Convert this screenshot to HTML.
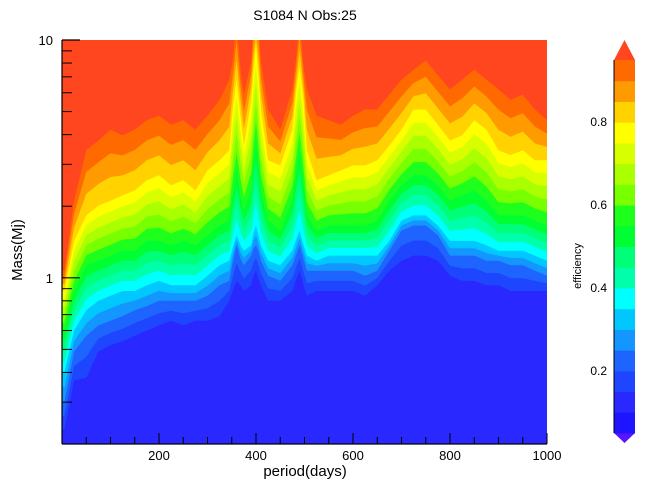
<!DOCTYPE html>
<html><head><meta charset="utf-8"><style>
html,body{margin:0;padding:0;background:#fff;}
svg{display:block;font-family:"Liberation Sans",sans-serif;}
</style></head><body>
<svg id="chart" width="646" height="493" viewBox="0 0 646 493">
<defs><clipPath id="plotclip"><rect x="62" y="40" width="485" height="404"/></clipPath></defs>
<text x="305" y="20" text-anchor="middle" font-size="14">S1084 N Obs:25</text>
<g id="plot" clip-path="url(#plotclip)"></g>
<g id="axes"></g>
<g id="cbar"></g>
<text x="305" y="476" text-anchor="middle" font-size="15">period(days)</text>
<text transform="translate(22,250) rotate(-90)" text-anchor="middle" font-size="15">Mass(Mj)</text>
<text transform="translate(581,266) rotate(-90)" text-anchor="middle" font-size="11">efficiency</text>
</svg>
<script>
const periods=[5,25,50,75,100,125,150,175,200,225,250,275,300,325,345,352,360,368,375,390,395,400,405,410,425,450,475,482,490,498,505,525,550,575,600,625,650,675,700,725,750,775,800,825,850,875,900,925,950,975,1000];
const contourLevels=[0.15,0.25,0.35,0.55,0.80,0.95];
const mass15=[0.23,0.37,0.38,0.49,0.52,0.54,0.57,0.60,0.63,0.66,0.63,0.66,0.66,0.69,0.80,0.88,0.97,0.93,0.88,0.93,1.02,1.07,0.99,0.93,0.80,0.80,0.88,0.97,1.07,0.93,0.84,0.88,0.88,0.88,0.88,0.84,0.93,1.07,1.18,1.24,1.24,1.18,1.02,0.97,0.97,0.93,0.93,0.88,0.88,0.88,0.88];
const mass25=[0.30,0.49,0.57,0.63,0.66,0.69,0.73,0.76,0.80,0.80,0.80,0.80,0.84,0.93,0.97,1.16,1.37,1.20,1.13,1.24,1.33,1.37,1.30,1.18,1.02,0.97,1.13,1.24,1.37,1.20,1.07,1.07,1.07,1.07,1.07,1.02,1.07,1.30,1.58,1.66,1.66,1.51,1.24,1.24,1.24,1.18,1.18,1.13,1.13,1.07,1.02];
const mass35=[0.40,0.60,0.73,0.80,0.84,0.88,0.88,0.93,0.97,0.93,0.93,0.93,1.02,1.13,1.18,1.33,1.51,1.37,1.30,1.37,1.55,1.66,1.51,1.37,1.18,1.13,1.30,1.43,1.58,1.37,1.24,1.18,1.24,1.24,1.24,1.24,1.24,1.43,1.74,1.83,1.83,1.66,1.43,1.43,1.43,1.37,1.30,1.30,1.30,1.24,1.18];
const mass55=[0.60,0.88,1.13,1.18,1.24,1.30,1.30,1.43,1.43,1.37,1.43,1.37,1.51,1.66,1.74,2.22,2.83,2.22,1.92,2.33,3.12,3.78,2.97,2.33,1.74,1.58,2.11,2.70,3.44,2.45,1.83,1.58,1.66,1.66,1.66,1.66,1.74,2.11,2.45,2.70,2.70,2.45,2.11,2.22,2.33,2.11,1.83,1.83,1.83,1.74,1.66];
const mass80=[0.88,1.43,1.83,2.01,2.11,2.22,2.33,2.57,2.70,2.45,2.57,2.33,2.83,3.12,3.44,5.1,6.8,4.8,3.6,5.6,7.5,9.5,7.1,5.1,3.12,2.97,4.2,5.9,7.8,5.6,3.44,2.57,2.70,2.83,2.97,2.97,3.12,3.6,4.2,5.1,5.1,4.4,3.78,3.97,4.6,4.2,3.44,3.28,3.44,3.12,3.12];
const mass95=[1.07,2.11,3.44,3.78,4.2,3.97,4.2,4.6,4.8,4.4,4.6,4.2,4.8,5.6,6.8,8.2,12,7.5,5.9,8.2,12,12,12,8.2,5.1,4.2,6.2,8.2,12,7.8,6.2,4.8,4.6,4.4,4.8,5.1,5.1,5.9,6.8,7.5,8.2,7.1,6.2,6.8,7.5,6.8,6.2,5.6,5.9,5.1,4.6];
const bandLevels=[0.15,0.20,0.25,0.30,0.35,0.40,0.45,0.50,0.55,0.60,0.65,0.70,0.75,0.80,0.85,0.90,0.95];
const xTickValues=[200,400,600,800,1000];
const xTickLabels=["200","400","600","800","1000"];
const yMajorValues=[10,1];
const yMajorLabels=["10","1"];
const yMinorValues=[9,8,7,6,5,4,3,2,0.9,0.8,0.7,0.6,0.5,0.4,0.3];
const cbarTickValues=[0.2,0.4,0.6,0.8];
const cbarTickLabels=["0.2","0.4","0.6","0.8"];

const NS="http://www.w3.org/2000/svg";
const X0=62,X1=547,Y0=40,Y1=444,XMIN=0,XMAX=1000,YMIN=0.2,YMAX=10;
const xS=p=>X0+(p-XMIN)/(XMAX-XMIN)*(X1-X0);
const yS=m=>Y0+(Math.log10(YMAX)-Math.log10(m))/(Math.log10(YMAX)-Math.log10(YMIN))*(Y1-Y0);
const colorFor=function(lv){
  const table=[[0.00,"#2828ff"],[0.15,"#1e46ff"],[0.20,"#1e64ff"],[0.25,"#1496ff"],[0.30,"#00c8ff"],[0.35,"#00ffff"],[0.40,"#00ffaa"],[0.45,"#00ff78"],[0.50,"#00ff32"],[0.55,"#1eff1e"],[0.60,"#78ff00"],[0.65,"#aaff00"],[0.70,"#d8ff00"],[0.75,"#ffff00"],[0.80,"#ffd200"],[0.85,"#ff9a00"],[0.90,"#ff6a00"],[0.95,"#ff461e"]];
  let c=table[0][1];for(const t of table){if(lv>=t[0]-1e-9)c=t[1];}return c;};
const knots=[mass15,mass25,mass35,mass55,mass80,mass95];
function contourMass(i,lv){
  let k=0;while(k<contourLevels.length-2&&lv>contourLevels[k+1])k++;
  const a=contourLevels[k],b=contourLevels[k+1];
  const la=Math.log10(knots[k][i]),lb=Math.log10(knots[k+1][i]);
  const t=(lv-a)/(b-a);return Math.pow(10,la+(lb-la)*t);}
function mk(tag,parent,attrs){const e=document.createElementNS(NS,tag);for(const k in attrs)e.setAttribute(k,attrs[k]);parent.appendChild(e);return e;}
const plot=document.getElementById('plot');
const base=mk('rect',plot,{x:X0,y:Y0,width:X1-X0,height:Y1-Y0,fill:colorFor(0)});


bandLevels.forEach(function(lv){
  let pts=[[X0,Y0-5]];
  pts.push([X0,yS(contourMass(0,lv))]);
  periods.forEach(function(p,i){pts.push([xS(p),yS(contourMass(i,lv))]);});
  pts.push([X1,yS(contourMass(periods.length-1,lv))]);
  pts.push([X1,Y0-5]);
  const poly=mk('polygon',plot,{points:pts.map(q=>q[0].toFixed(1)+','+q[1].toFixed(1)).join(' '),fill:colorFor(lv)});
  
  
});
const axes=document.getElementById('axes');
const yl=mk('line',axes,{x1:X0,y1:Y0,x2:X0,y2:Y1,stroke:'#000','stroke-width':1.2});


const xl=mk('line',axes,{x1:X0,y1:Y1,x2:X1,y2:Y1,stroke:'#000','stroke-width':1.2});


for(let p=50;p<=1000;p+=50){
  const major=p%200===0;
  const t=mk('line',axes,{x1:xS(p),y1:Y1,x2:xS(p),y2:Y1-(major?11:7),stroke:'#000','stroke-width':1});
  
  
}
xTickValues.forEach(function(v,i){
  const t=mk('text',axes,{x:xS(v),y:Y1+16,'text-anchor':'middle','font-size':13});
  t.textContent=xTickLabels[i];
  
  
});
yMajorValues.forEach(function(v,i){
  const tk=mk('line',axes,{x1:X0,y1:yS(v),x2:X0+18,y2:yS(v),stroke:'#000','stroke-width':1.2});
  
  
  const t=mk('text',axes,{x:X0-9,y:yS(v)+5,'text-anchor':'end','font-size':13});
  t.textContent=yMajorLabels[i];
  
  
});
yMinorValues.forEach(function(v){
  const tk=mk('line',axes,{x1:X0,y1:yS(v),x2:X0+10,y2:yS(v),stroke:'#000','stroke-width':1});
  
  
});
const cbar=document.getElementById('cbar');
const CX0=614,CX1=635,CT=60,CB=433;
const cy=v=>CB-(v-0.05)/(0.95-0.05)*(CB-CT);
const lo=mk('polygon',cbar,{points:CX0+','+CB+' '+CX1+','+CB+' '+((CX0+CX1)/2)+','+443,fill:'#5a14ff'});


const hi=mk('polygon',cbar,{points:CX0+','+CT+' '+CX1+','+CT+' '+((CX0+CX1)/2)+','+40,fill:colorFor(0.95)});


const lowBands=[0.05,0.10].concat(bandLevels.slice(0,-1));
lowBands.forEach(function(lv){
  const col=lv<0.1?'#1e14ff':(lv<0.15?colorFor(0):colorFor(lv));
  const r=mk('rect',cbar,{x:CX0,y:cy(lv+0.05),width:CX1-CX0,height:cy(lv)-cy(lv+0.05)+0.5,fill:col});
  
  
});
const cl=mk('line',cbar,{x1:CX0,y1:CT,x2:CX0,y2:CB,stroke:'#000','stroke-width':1});


cbarTickValues.forEach(function(v,i){
  const t=mk('text',cbar,{x:607,y:cy(v)+4,'text-anchor':'end','font-size':12});
  t.textContent=cbarTickLabels[i];
  
  
});
</script>
</body></html>
